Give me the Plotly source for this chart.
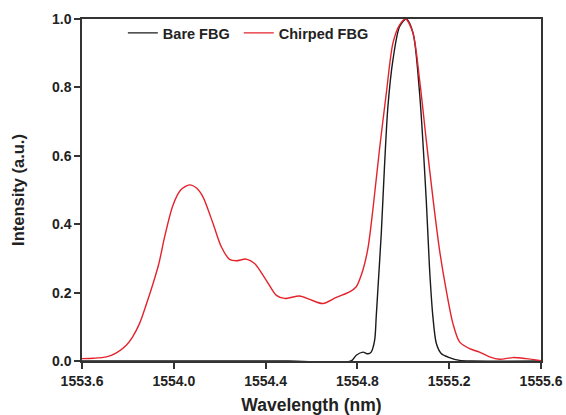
import plotly.graph_objects as go

# Chirped FBG reflection spectrum (normalised)
chirped_wl = [1553.600, 1553.650, 1553.706, 1553.750, 1553.793, 1553.820, 1553.851,
              1553.880, 1553.909, 1553.935, 1553.960, 1553.996, 1554.030, 1554.069,
              1554.100, 1554.127, 1554.171, 1554.207, 1554.243, 1554.272, 1554.316,
              1554.352, 1554.403, 1554.447, 1554.483, 1554.548, 1554.592, 1554.650,
              1554.708, 1554.766, 1554.795, 1554.824, 1554.846, 1554.867, 1554.896,
              1554.926, 1554.955, 1554.984, 1555.010, 1555.042, 1555.071, 1555.100,
              1555.130, 1555.158, 1555.187, 1555.216, 1555.245, 1555.289, 1555.332,
              1555.376, 1555.420, 1555.477, 1555.535, 1555.600]
chirped_int = [0.007, 0.008, 0.012, 0.024, 0.046, 0.070, 0.110,
               0.165, 0.225, 0.285, 0.363, 0.455, 0.500, 0.515,
               0.505, 0.480, 0.402, 0.334, 0.297, 0.293, 0.298,
               0.285, 0.236, 0.192, 0.183, 0.190, 0.180, 0.168,
               0.186, 0.202, 0.217, 0.266, 0.330, 0.440, 0.617,
               0.783, 0.930, 0.983, 1.000, 0.959, 0.822, 0.646,
               0.471, 0.324, 0.207, 0.110, 0.056, 0.036, 0.026,
               0.012, 0.005, 0.010, 0.007, 0.001]

# Bare FBG reflection spectrum (normalised)
bare_wl = [1553.600, 1553.900, 1554.200, 1554.500, 1554.773, 1554.795, 1554.824,
           1554.846, 1554.860, 1554.875, 1554.882, 1554.889, 1554.904, 1554.918,
           1554.933, 1554.955, 1554.984, 1555.013, 1555.042, 1555.071, 1555.100,
           1555.114, 1555.129, 1555.144, 1555.165, 1555.201, 1555.245, 1555.300,
           1555.600]
bare_int = [0.000, 0.000, 0.000, 0.000, 0.000, 0.017, 0.026,
            0.021, 0.026, 0.060, 0.129, 0.207, 0.373, 0.568,
            0.744, 0.881, 0.978, 1.000, 0.960, 0.783, 0.471,
            0.275, 0.129, 0.051, 0.022, 0.010, 0.002, 0.000,
            0.000]

x_ticks = [1553.6, 1554.0, 1554.4, 1554.8, 1555.2, 1555.6]
y_ticks = [0.0, 0.2, 0.4, 0.6, 0.8, 1.0]

FONT = "Liberation Sans, Arial, sans-serif"
INK = "#222222"

fig = go.Figure()
fig.add_trace(go.Scatter(x=bare_wl, y=bare_int, mode="lines", name="<b>Bare FBG</b>&nbsp;",
                         line=dict(color="#1a1a1a", width=1.4, shape="spline", smoothing=0.8)))
fig.add_trace(go.Scatter(x=chirped_wl, y=chirped_int, mode="lines", name="<b>Chirped FBG</b>",
                         line=dict(color="#e3232c", width=1.4, shape="spline", smoothing=0.8)))

axis_common = dict(showline=True, linecolor="#333333", linewidth=1.5, mirror=True,
                   ticks="outside", ticklen=6, tickwidth=1.5, tickcolor="#333333",
                   showgrid=False, zeroline=False, automargin=False,
                   tickfont=dict(family=FONT, size=14, color=INK))

fig.update_xaxes(range=[1553.6, 1555.6], tickvals=x_ticks,
                 ticktext=[f"<b>{v:.1f}</b>" for v in x_ticks],
                 title=dict(text="<b>Wavelength (nm)</b>", standoff=14,
                            font=dict(family=FONT, size=17.5, color=INK)),
                 **axis_common)
fig.update_yaxes(range=[0, 1.0], tickvals=y_ticks,
                 ticktext=[f"<b>{v:.1f}</b>" for v in y_ticks],
                 title=dict(text="<b>Intensity (a.u.)</b>", standoff=23,
                            font=dict(family=FONT, size=16.5, color=INK)),
                 **axis_common)

fig.update_layout(
    width=566, height=415,
    margin=dict(l=82, r=25, t=19, b=54),
    paper_bgcolor="white", plot_bgcolor="white",
    showlegend=True,
    legend=dict(orientation="h", x=0.089, y=1.006, xanchor="left", yanchor="top",
                bgcolor="rgba(0,0,0,0)", itemwidth=30, tracegroupgap=0,
                font=dict(family=FONT, size=14.5, color=INK)),
)

fig.write_html("out.html")
